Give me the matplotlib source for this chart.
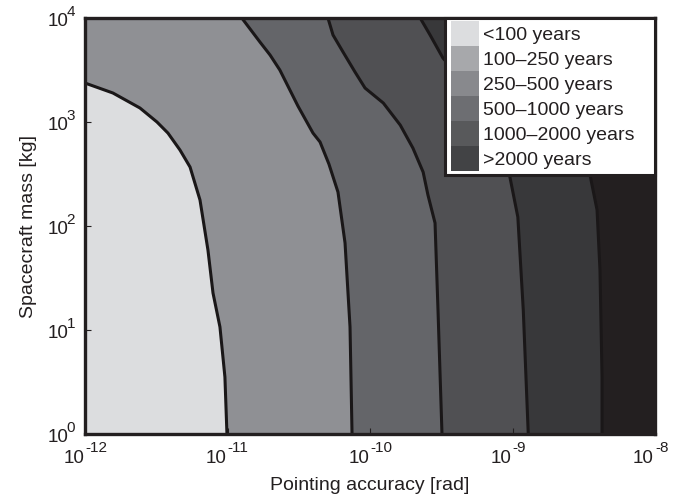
import matplotlib
matplotlib.use("Agg")
import matplotlib.pyplot as plt
from matplotlib.patches import Patch, Rectangle
from matplotlib.transforms import offset_copy

plt.rcParams['font.family'] = ['Liberation Sans', 'DejaVu Sans']

# ---- data ----
legend_labels = ["<100 years", "100\u2013250 years", "250\u2013500 years",
                 "500\u20131000 years", "1000\u20132000 years", ">2000 years"]
region_colors = ["#dcdddf", "#8f9094", "#646569", "#505053", "#38383a", "#231f20"]
legend_colors = ["#dcdddf", "#a7a8ab", "#88898d", "#6d6e72", "#58595b", "#424345"]

# boundary <100 | 100-250
b1_mass = [2371, 1901, 1364, 1000, 783, 538, 369, 178, 58.7, 22.7, 10.7, 3.53, 1.0]
b1_acc = [1.00e-12, 1.57e-12, 2.43e-12, 3.20e-12, 3.82e-12, 4.64e-12, 5.46e-12,
          6.41e-12, 7.29e-12, 7.91e-12, 8.85e-12, 9.59e-12, 9.91e-12]
# boundary 100-250 | 250-500
b2_mass = [1e4, 5875, 4406, 3162, 1426, 783, 643, 394, 212, 68.7, 10.7, 1.0]
b2_acc = [1.26e-11, 1.69e-11, 1.99e-11, 2.33e-11, 3.12e-11, 3.98e-11, 4.46e-11,
          5.15e-11, 5.96e-11, 6.68e-11, 7.24e-11, 7.48e-11]
# boundary 250-500 | 500-1000
b3_mass = [1e4, 6871, 4710, 3026, 2122, 1523, 935, 562, 330, 199, 107, 15.6, 1.0]
b3_acc = [5.07e-11, 5.50e-11, 6.47e-11, 7.85e-11, 9.23e-11, 1.24e-10, 1.63e-10,
          2.00e-10, 2.36e-10, 2.55e-10, 2.86e-10, 3.00e-10, 3.20e-10]
# boundary 500-1000 | 1000-2000
b4_mass = [1e4, 6871, 4121, 2710, 1167, 601, 296, 122, 15.6, 1.0]
b4_acc = [2.25e-10, 2.64e-10, 3.25e-10, 4.29e-10, 6.41e-10, 8.43e-10, 9.59e-10,
          1.09e-9, 1.19e-9, 1.29e-9]
# boundary 1000-2000 | >2000
b5_mass = [1e4, 3945, 671, 309, 143, 37.8, 3.53, 1.0]
b5_acc = [2.22e-9, 2.54e-9, 3.13e-9, 3.50e-9, 3.92e-9, 4.11e-9, 4.25e-9, 4.25e-9]

x_ticks = [1e-12, 1e-11, 1e-10, 1e-9, 1e-8]
x_tick_exps = ["-12", "-11", "-10", "-9", "-8"]
y_ticks = [1e0, 1e1, 1e2, 1e3, 1e4]
y_tick_exps = ["0", "1", "2", "3", "4"]
x_lim = (1e-12, 1e-8)
y_lim = (1e0, 1e4)

TXT = '#231f20'

# ---- figure ----
fig = plt.figure(figsize=(6.94, 5.01), dpi=100)
ax = fig.add_axes([0.1225, 0.1337, 0.8213, 0.8303])
ax.set_xscale('log')
ax.set_yscale('log')

ax.fill_betweenx(list(y_lim), x_lim[0], x_lim[1], color=region_colors[5], lw=0)
bounds = [(b5_mass, b5_acc), (b4_mass, b4_acc), (b3_mass, b3_acc),
          (b2_mass, b2_acc), (b1_mass, b1_acc)]
fill_cols = [region_colors[4], region_colors[3], region_colors[2],
             region_colors[1], region_colors[0]]
for (m, a), c in zip(bounds, fill_cols):
    ax.fill_betweenx(m, x_lim[0], a, color=c, lw=0)
for m, a in bounds:
    ax.plot(a, m, color='#1a1718', lw=2.2, solid_joinstyle='round',
            solid_capstyle='round')

ax.set_xlim(*x_lim)
ax.set_ylim(*y_lim)
ax.set_xticks(x_ticks)
ax.set_yticks(y_ticks)
ax.set_xticklabels([])
ax.set_yticklabels([])
ax.minorticks_off()
ax.tick_params(direction='in', length=4, width=0.8, color=TXT)
for s in ax.spines.values():
    s.set_linewidth(2.4)
    s.set_color(TXT)

# MATLAB-style tick labels: "10" with a large superscript exponent
xt = ax.get_xaxis_transform()
yt = ax.get_yaxis_transform()
for v, e in zip(x_ticks, x_tick_exps):
    ax.text(v, 0, "10", transform=offset_copy(xt, fig, x=-1, y=-29, units='dots'),
            ha='right', va='baseline', fontsize=13.5, color=TXT, clip_on=False)
    ax.text(v, 0, e, transform=offset_copy(xt, fig, x=0, y=-18, units='dots'),
            ha='left', va='baseline', fontsize=11, color=TXT, clip_on=False)
for v, e in zip(y_ticks, y_tick_exps):
    ax.text(0, v, "10", transform=offset_copy(yt, fig, x=-17, y=-8, units='dots'),
            ha='right', va='baseline', fontsize=13.5, color=TXT, clip_on=False)
    ax.text(0, v, e, transform=offset_copy(yt, fig, x=-10, y=2, units='dots'),
            ha='right', va='baseline', fontsize=11, color=TXT, clip_on=False)

ax.set_xlabel("Pointing accuracy [rad]", fontsize=14, color=TXT)
ax.xaxis.set_label_coords(0.5, -0.104)
ax.set_ylabel("Spacecraft mass [kg]", fontsize=14, color=TXT)
ax.yaxis.set_label_coords(-0.084, 0.5)

# legend frame (flush with the upper-right corner of the axes)
frame = Rectangle((0.6316, 0.6226), 1.0 - 0.6316, 1.0 - 0.6226,
                  transform=ax.transAxes, facecolor='white',
                  edgecolor=TXT, lw=2.2, zorder=5, clip_on=False)
ax.add_patch(frame)
handles = [Patch(facecolor=c, edgecolor='none') for c in legend_colors]
leg = ax.legend(handles, legend_labels, loc='upper left',
                bbox_to_anchor=(0.6421, 0.9928), fontsize=14,
                frameon=False, borderaxespad=0, borderpad=0, labelspacing=0,
                handlelength=1.45, handleheight=1.6, handletextpad=0.2)
for t in leg.get_texts():
    t.set_color(TXT)
leg.set_zorder(6)

fig.savefig("out.png", dpi=100)
